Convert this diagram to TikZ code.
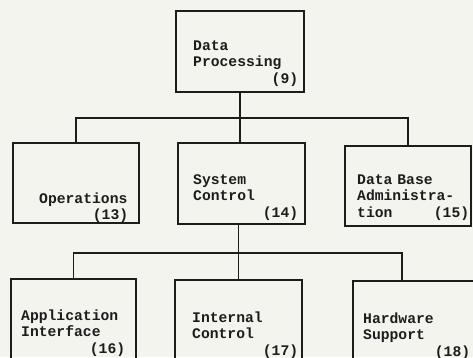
\documentclass[tikz,border=0pt]{standalone}
\usepackage{fontspec}
\setmonofont{Liberation Mono}
\usetikzlibrary{positioning}
\definecolor{paper}{RGB}{244,244,238}
\definecolor{ink}{RGB}{28,28,28}

\begin{document}
\begin{tikzpicture}[
    x=1pt, y=-1pt,
    box/.style={rectangle, draw=ink, line width=1.8pt, inner sep=0pt},
    txt/.style={anchor=base west, inner sep=0pt, align=left, text=ink, font=\ttfamily\bfseries\fontsize{14.7}{16.8}\selectfont},
    link/.style={draw=ink, line width=1.8pt}
]
\clip (0,0) rectangle (473,357);
\fill[paper] (0,0) rectangle (473,357);

% boxes
\node[box, minimum width=128pt, minimum height=81pt] (dp) at (240,51.5) {};
\node[box, minimum width=126pt, minimum height=80pt] (ops) at (76,183) {};
\node[box, minimum width=127pt, minimum height=81pt] (sc) at (241.5,183.5) {};
\node[box, minimum width=126pt, minimum height=80pt] (dba) at (408,186) {};
\node[box, minimum width=125pt, minimum height=96pt] (ai) at (73.5,327) {};
\node[box, minimum width=127pt, minimum height=96pt] (ic) at (238.5,328) {};
\node[box, minimum width=127pt, minimum height=96pt] (hw) at (416.5,329) {};

% texts
\node[txt, text width=105pt] (dp-t) at (193,50) {Data\\Processing\\\hfill(9)};
\node[txt, text width=89pt] (ops-t) at (39,203) {Operations\\\hfill(13)};
\node[txt, text width=105pt] (sc-t) at (193,184) {System\\Control\\\hfill(14)};
\node[txt, text width=112pt] (dba-t) at (357,184) {Data Base\\Administra-\\tion\hfill(15)};
\node[txt, text width=104pt] (ai-t) at (21,320) {Application\\Interface\\\hfill(16)};
\node[txt, text width=106pt] (ic-t) at (192,322) {Internal\\Control\\\hfill(17)};
\node[txt, text width=107pt] (hw-t) at (363,323) {Hardware\\Support\\\hfill(18)};

% connectors
\coordinate (bus1) at (240,118);
\coordinate (bus2) at (239,253);
\coordinate (hw-in) at ([xshift=50pt]hw.north west);
\draw[link] (dp.south) -- (dp.south |- sc.north);
\draw[link] (ops.north) |- (bus1) -| (dba.north);
\draw[link] (ic.north |- sc.south) -- (ic.north);
\draw[link] (ai.north) |- (bus2) -| (hw-in);

\end{tikzpicture}
\end{document}
